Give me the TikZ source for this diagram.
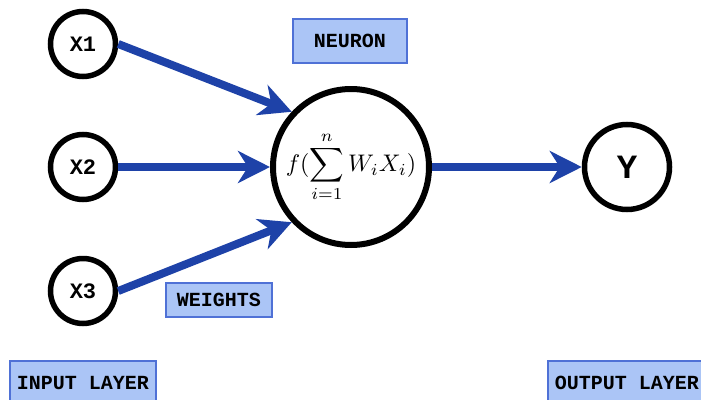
\documentclass[tikz,border=0pt]{standalone}
\usepackage{fontspec}
\usepackage{graphicx}
\setmonofont{Liberation Mono}
\usetikzlibrary{arrows.meta}
\definecolor{arrowblue}{RGB}{30,66,168}
\definecolor{boxfill}{RGB}{171,197,246}
\definecolor{boxline}{RGB}{79,113,214}
\tikzset{
  unit/.style={circle,draw=black,line width=5.5pt,fill=white,inner sep=0pt,font=\ttfamily\bfseries\fontsize{22}{26}\selectfont},
  bigunit/.style={circle,draw=black,line width=6pt,fill=white,inner sep=0pt,minimum size=156pt},
  tagbox/.style={draw=boxline,fill=boxfill,line width=1.3pt,inner sep=0pt,font=\ttfamily\bfseries\fontsize{20}{24}\selectfont},
  conn/.style={draw=arrowblue,line width=8pt,-{Stealth[length=32pt,width=32pt,inset=10pt]}}
}
\begin{document}
\begin{tikzpicture}[x=1pt,y=-1pt]
\useasboundingbox (0,0) rectangle (701,399);
\node[unit,minimum size=65pt] (x1) at (83,44) {X1};
\node[unit,minimum size=65pt] (x2) at (83,167) {X2};
\node[unit,minimum size=65pt] (x3) at (83,291) {X3};
\node[bigunit] (n) at (351,167) {\scalebox{2.4}{$\displaystyle f(\sum_{i=1}^{n} W_i X_i)$}};
\node[unit,minimum size=85pt,font=\ttfamily\bfseries\fontsize{34}{40}\selectfont] (y) at (627,167) {Y};
\node[tagbox,minimum width=114pt,minimum height=44pt] (lneuron) at (350,41) {NEURON};
\node[tagbox,minimum width=106pt,minimum height=34pt] (lweights) at (219,300) {WEIGHTS};
\node[tagbox,minimum width=146pt,minimum height=44pt] (linput) at (83,383) {INPUT LAYER};
\node[tagbox,minimum width=158pt,minimum height=44pt] (loutput) at (627,383) {OUTPUT LAYER};
\draw[conn] (x1.east) -- (n.137);
\draw[conn] (x2.east) -- (n.west);
\draw[conn] (x3.east) -- (n.223);
\draw[conn] (n.east) -- (y.west);
\end{tikzpicture}
\end{document}
